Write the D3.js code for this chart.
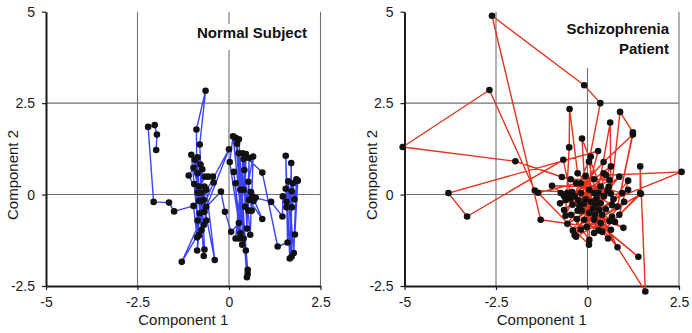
<!DOCTYPE html>
<html>
<head>
<meta charset="utf-8">
<script src="https://cdn.jsdelivr.net/npm/d3@7"></script>
<style>
  body { margin: 0; background: #fff; }
  svg { display: block; font-family: "Liberation Sans", Arial, Helvetica, sans-serif; }
</style>
</head>
<body>
<svg id="chart" width="692" height="333"></svg>
<script>
// component 1 / component 2 trajectories, points in time order

const normalPoints = [
    [-1.99, 1.22], [-1.97, 1.64], [-2.03, 1.90], [-2.21, 1.85], [-2.06, -0.20], [-1.64, -0.22],
    [-1.50, -0.46], [-0.97, -0.31], [-0.87, -1.17], [-0.89, 1.78], [-0.64, 2.84], [-0.80, 1.37],
    [-0.67, -1.50], [-0.69, -1.68], [-0.86, 0.58], [-1.03, 1.09], [-0.82, -1.11], [-0.87, -1.53],
    [-0.73, 0.69], [-0.93, 0.95], [-0.75, -0.97], [-0.78, 0.82], [-0.86, 1.02], [-0.82, 0.22],
    [-0.62, -0.71], [-0.97, 0.73], [-1.10, 0.52], [-0.86, 0.05], [-0.66, 0.49], [-0.56, 0.49],
    [-0.44, 0.49], [-0.42, 0.33], [-0.86, -0.71], [-0.67, 0.22], [-0.80, -0.51], [-0.75, 0.05],
    [-0.39, -1.79], [-0.62, 0.13], [-0.69, -0.15], [-0.82, -0.17], [-0.95, 0.29], [-0.69, -0.83],
    [-1.29, -1.84], [-0.67, -0.47], [0.00, 1.24], [-0.77, -0.18], [-0.62, -0.33], [-0.22, 0.08],
    [-0.11, -0.47], [0.06, -1.02], [0.27, -0.78], [0.02, 0.89], [0.11, 1.59], [0.40, -1.20],
    [0.18, 1.55], [0.46, -1.53], [0.27, 1.51], [0.49, -2.26], [0.22, 1.39], [0.51, -2.17],
    [0.51, -2.06], [0.26, 1.13], [0.31, -1.06], [0.13, 0.62], [0.36, -1.37], [0.37, 1.13],
    [0.91, 0.60], [1.33, -1.42], [1.60, -1.31], [1.55, 1.06], [1.66, -1.75], [1.70, 0.86],
    [1.71, -1.70], [1.62, 0.36], [1.77, -1.60], [1.84, 0.42], [1.80, -1.09], [1.88, 0.38],
    [1.72, -0.35], [1.55, 0.16], [1.57, -0.35], [1.75, 0.31], [1.79, -0.13], [1.71, 0.09],
    [1.57, -0.20], [1.47, -0.05], [1.46, -0.60], [1.15, -0.20], [0.73, -0.09], [0.18, 0.31],
    [0.27, -1.20], [0.46, 1.11], [0.44, -0.33], [0.40, 0.97], [0.49, -0.93], [0.55, 1.00],
    [0.53, -0.44], [0.42, 0.67], [0.58, -1.10], [0.66, 1.04], [0.53, 0.35], [0.62, -0.44],
    [0.60, 0.07], [0.31, 0.13], [0.18, -1.20], [0.40, 0.13], [0.64, -0.05], [0.91, -0.67],
    [0.55, -0.15], [0.67, -0.18]
]

const patientPoints = [
    [0.05, 0.13], [-0.18, 0.31], [0.18, 0.04], [-1.44, 0.11], [-2.68, 2.86], [-5.05, 1.30],
    [-1.97, 0.91], [-0.70, 0.48], [0.95, 0.04], [-0.75, -0.24], [0.18, 0.42], [-1.35, 0.05],
    [0.04, -1.37], [0.09, 1.04], [-0.60, -0.58], [-0.50, 1.29], [-0.49, 2.34], [-0.27, 0.58],
    [0.45, -0.05], [-0.15, 1.53], [-0.05, -0.13], [0.29, 1.19], [-3.80, 0.04], [-3.29, -0.60],
    [-0.66, 0.95], [-0.41, -0.28], [0.36, 0.22], [-0.97, 0.24], [0.64, -0.96], [-1.28, -0.69],
    [-2.61, 4.89], [-0.09, 2.99], [0.35, 2.50], [0.04, 0.90], [0.25, -0.11], [0.62, 1.97],
    [0.64, 0.02], [0.89, 2.26], [1.24, 1.70], [0.82, -0.33], [1.24, 1.64], [0.44, 0.89],
    [-0.46, -0.11], [0.56, -1.20], [-0.22, -0.31], [0.15, -0.38], [1.58, -2.65], [1.44, 0.77],
    [1.44, 0.04], [0.87, -0.55], [1.11, 0.38], [0.71, -0.13], [2.57, 0.62], [0.51, 0.53],
    [-0.64, -0.42], [0.60, 0.40], [-0.46, 0.42], [0.67, -0.29], [-0.31, 0.31], [0.36, -0.78],
    [-0.64, -0.04], [0.98, -0.91], [-0.16, -0.44], [1.39, -1.70], [0.18, -0.69], [-0.73, 0.04],
    [0.32, -0.42], [-0.35, -1.11], [0.64, 0.77], [-0.60, -0.15], [0.60, -0.73], [-0.27, -0.44],
    [0.87, 0.49], [-0.09, -0.69], [1.11, 0.13], [-0.40, -0.98], [0.44, 0.58], [-0.55, -0.80],
    [0.36, -0.24], [-0.42, 0.07], [0.82, -1.44], [0.23, -0.27], [-0.29, -0.67], [0.58, 0.22],
    [-0.02, -0.89], [1.00, -0.20], [0.18, -1.05], [-0.05, 0.51], [-0.31, -1.15], [0.67, -0.60],
    [-0.18, -0.96], [1.46, 0.02], [0.40, -1.02], [-0.18, 0.04], [-0.55, 0.05], [0.30, 0.05],
    [-0.50, -0.02], [0.50, -0.40], [-0.35, -0.05], [0.20, -0.55], [0.10, -0.20], [0.55, 0.10],
    [-0.10, -0.25], [0.40, -0.55], [0.05, -0.50], [0.75, -0.75], [-0.25, -0.15], [0.30, -0.98],
    [-0.45, -0.55], [0.05, -1.24]
]

const xTicks = [-5, -2.5, 0, 2.5]
const yTicks = [-2.5, 0, 2.5, 5]
const xGrid = [-2.5, 0, 2.5]
const yGrid = [0, 2.5]
const xLabel = 'Component 1'
const yLabel = 'Component 2'

const panels = [
    { dx: 0, points: normalPoints, color: '#3a44f6', title: ['Normal Subject'],
      titleRight: 307, titleTop: 37.5, boxTop: 24, boxBottom: 50 },
    { dx: 358.5, points: patientPoints, color: '#e5331d', title: ['Schizophrenia', 'Patient'],
      titleRight: 310.5, titleTop: 34.3, boxTop: 8, boxBottom: 68 }
]

const svg = d3.select('#chart')

const x = d3.scaleLinear().domain([-5, 2.5]).range([46, 320.5])
const y = d3.scaleLinear().domain([-2.5, 5]).range([286, 11.7])

panels.forEach((p) => {
    var g = svg.append('g').attr('transform', 'translate(' + p.dx + ',0)')

    // grid
    g.selectAll('line.vgrid')
        .data(xGrid)
        .enter()
        .append('line')
        .attr('class', 'vgrid')
        .attr('x1', (d) => x(d)).attr('x2', (d) => x(d))
        .attr('y1', y(5)).attr('y2', y(-2.5))
        .attr('stroke', '#707070').attr('stroke-width', 1.1)

    g.selectAll('line.hgrid')
        .data(yGrid)
        .enter()
        .append('line')
        .attr('class', 'hgrid')
        .attr('x1', x(-5)).attr('x2', x(2.5))
        .attr('y1', (d) => y(d)).attr('y2', (d) => y(d))
        .attr('stroke', '#707070').attr('stroke-width', 1.1)

    // axes
    var yAxis = g.append('g')
        .attr('transform', 'translate(' + x(-5) + ',0)')
        .call(d3.axisLeft(y).tickValues(yTicks).tickSize(4).tickSizeOuter(0).tickPadding(7).tickFormat((d) => String(d)))
    var xAxis = g.append('g')
        .attr('transform', 'translate(0,' + y(-2.5) + ')')
        .call(d3.axisBottom(x).tickValues(xTicks).tickSize(4).tickSizeOuter(0).tickPadding(7).tickFormat((d) => String(d)))
    ;[xAxis, yAxis].forEach((a) => {
        a.select('.domain').attr('stroke', '#1a1a1a').attr('stroke-width', 2)
        a.selectAll('.tick line').attr('stroke', '#1a1a1a').attr('stroke-width', 1.2)
        a.selectAll('.tick text').attr('fill', '#1a1a1a').style('font-size', '14px')
            .style('font-family', '"Liberation Sans", Arial, Helvetica, sans-serif')
    })

    g.append('text')
        .attr('x', (x(-5) + x(2.5)) / 2)
        .attr('y', 325)
        .attr('text-anchor', 'middle')
        .attr('fill', '#1a1a1a')
        .style('font-size', '15px')
        .text(xLabel)

    g.append('text')
        .attr('transform', 'translate(18,175) rotate(-90)')
        .attr('text-anchor', 'middle')
        .attr('fill', '#1a1a1a')
        .style('font-size', '15px')
        .text(yLabel)

    // title with white box over the grid
    var box = g.append('rect').attr('fill', '#fff')
    var title = g.append('text')
        .attr('text-anchor', 'end')
        .attr('fill', '#111')
        .style('font-size', '15px')
        .style('font-weight', 'bold')
    p.title.forEach((t, i) => {
        title.append('tspan')
            .attr('x', p.titleRight)
            .attr('y', p.titleTop + i * 20)
            .text(t)
    })
    var bb = title.node().getBBox()
    box.attr('x', bb.x - 4).attr('width', bb.width + 8)
        .attr('y', p.boxTop).attr('height', p.boxBottom - p.boxTop)

    // trajectory
    var line = d3.line()
        .x((d) => x(d[0]))
        .y((d) => y(d[1]))

    g.append('path')
        .datum(p.points)
        .attr('d', line)
        .attr('fill', 'none')
        .attr('stroke', p.color)
        .attr('stroke-width', 1.4)
        .attr('stroke-linejoin', 'round')

    g.selectAll('circle')
        .data(p.points)
        .enter()
        .append('circle')
        .attr('cx', (d) => x(d[0]))
        .attr('cy', (d) => y(d[1]))
        .attr('r', 3.3)
        .attr('fill', '#111')
})
</script>
</body>
</html>
